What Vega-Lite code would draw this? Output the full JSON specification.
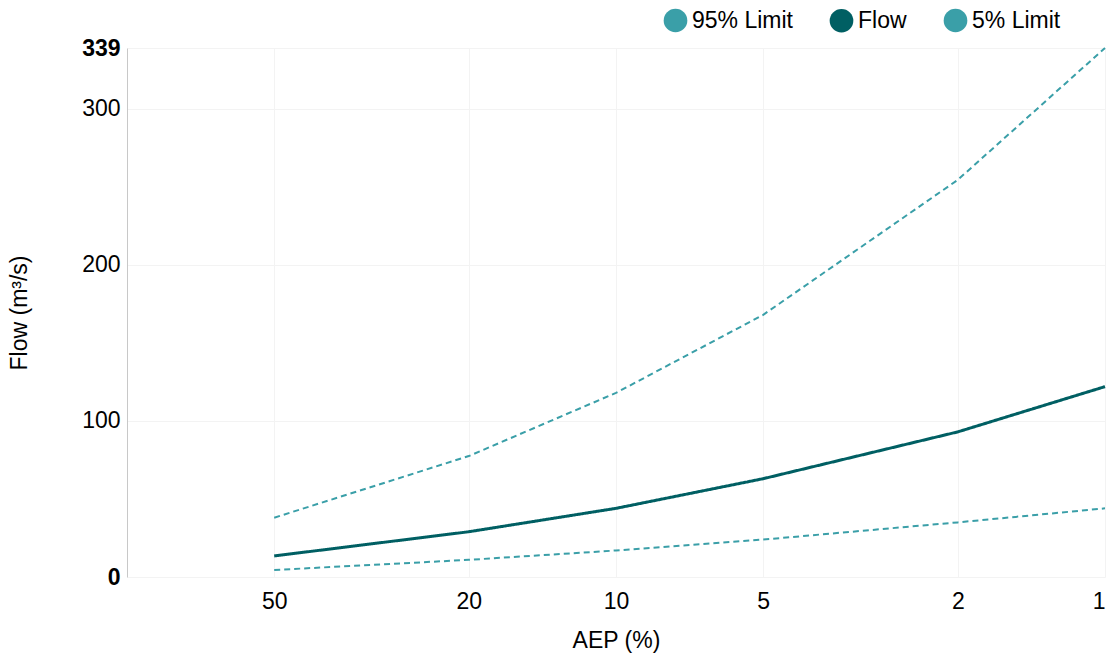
{
  "$schema": "https://vega.github.io/schema/vega-lite/v6.json",
  "autosize": {"type": "none"},
  "width": 978,
  "height": 529,
  "padding": {"left": 127, "top": 48, "right": 10, "bottom": 80},
  "background": "white",
  "config": {
    "font": "Liberation Sans",
    "view": {"stroke": null}
  },
  "data": {
    "values": [
      {"series": "95% Limit", "aep": 50, "flow": 38},
      {"series": "95% Limit", "aep": 20, "flow": 77.5},
      {"series": "95% Limit", "aep": 10, "flow": 118},
      {"series": "95% Limit", "aep": 5, "flow": 168},
      {"series": "95% Limit", "aep": 2, "flow": 254.5},
      {"series": "95% Limit", "aep": 1, "flow": 339},
      {"series": "Flow", "aep": 50, "flow": 13.5},
      {"series": "Flow", "aep": 20, "flow": 29},
      {"series": "Flow", "aep": 10, "flow": 44},
      {"series": "Flow", "aep": 5, "flow": 63},
      {"series": "Flow", "aep": 2, "flow": 93},
      {"series": "Flow", "aep": 1, "flow": 122},
      {"series": "5% Limit", "aep": 50, "flow": 4.5},
      {"series": "5% Limit", "aep": 20, "flow": 11},
      {"series": "5% Limit", "aep": 10, "flow": 17},
      {"series": "5% Limit", "aep": 5, "flow": 24},
      {"series": "5% Limit", "aep": 2, "flow": 35},
      {"series": "5% Limit", "aep": 1, "flow": 44}
    ]
  },
  "mark": {"type": "line", "interpolate": "linear"},
  "encoding": {
    "x": {
      "field": "aep",
      "type": "quantitative",
      "scale": {"type": "log", "domain": [100, 1]},
      "axis": {
        "title": "AEP (%)",
        "values": [50, 20, 10, 5, 2, 1],
        "domain": false,
        "ticks": false,
        "grid": true,
        "gridColor": "#f3f3f3",
        "labelFontSize": 23,
        "labelColor": "#000",
        "labelPadding": 13,
        "titleFontSize": 23,
        "titleFontWeight": "normal",
        "titleColor": "#000",
        "titlePadding": 16
      }
    },
    "y": {
      "field": "flow",
      "type": "quantitative",
      "scale": {"domain": [0, 339], "nice": false},
      "axis": {
        "title": "Flow (m³/s)",
        "values": [0, 100, 200, 300, 339],
        "domain": true,
        "domainColor": "#c8c8c8",
        "ticks": false,
        "grid": true,
        "gridColor": "#f3f3f3",
        "labelFontSize": 23,
        "labelColor": "#000",
        "labelPadding": 7,
        "labelFontWeight": {"condition": {"test": "datum.value == 0 || datum.value == 339", "value": "bold"}, "value": "normal"},
        "titleFontSize": 23,
        "titleFontWeight": "normal",
        "titleColor": "#000",
        "titlePadding": 50
      }
    },
    "color": {
      "field": "series",
      "type": "nominal",
      "scale": {"domain": ["95% Limit", "Flow", "5% Limit"], "range": ["#3a9fa8", "#005f63", "#3a9fa8"]},
      "legend": {
        "title": null,
        "orient": "none",
        "legendX": 535,
        "legendY": -41,
        "direction": "horizontal",
        "columns": 3,
        "symbolType": "circle",
        "symbolSize": 560,
        "symbolStrokeWidth": 0,
        "labelFontSize": 23,
        "labelColor": "#000",
        "labelOffset": 3,
        "columnPadding": 35,
        "encode": {
          "symbols": {
            "update": {
              "fill": {"scale": "color", "field": "value"},
              "fillOpacity": {"value": 1},
              "stroke": {"value": "transparent"},
              "strokeOpacity": {"value": 0},
              "strokeWidth": {"value": 0}
            }
          }
        }
      }
    },
    "strokeDash": {
      "field": "series",
      "type": "nominal",
      "scale": {"domain": ["95% Limit", "Flow", "5% Limit"], "range": [[6, 4], [1, 0], [6, 4]]},
      "legend": null
    },
    "strokeWidth": {
      "field": "series",
      "type": "nominal",
      "scale": {"type": "ordinal", "domain": ["95% Limit", "Flow", "5% Limit"], "range": [2, 3, 2]},
      "legend": null
    }
  }
}
